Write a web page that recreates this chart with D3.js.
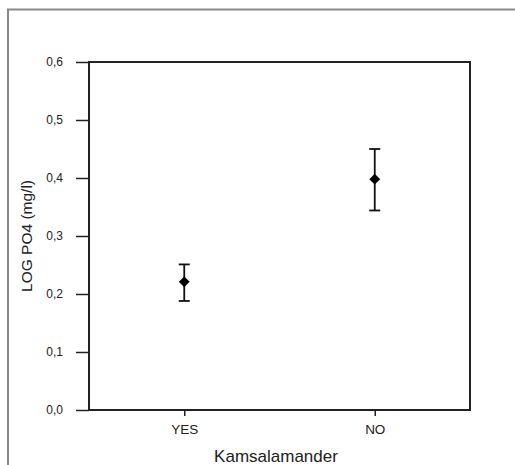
<!DOCTYPE html>
<html>
<head>
<meta charset="utf-8">
<script src="https://cdnjs.cloudflare.com/ajax/libs/d3/7.8.5/d3.min.js"></script>
<style>
  body { margin: 0; background: #fff; }
  svg { display: block; font-family: Arial, "Liberation Sans", sans-serif; }
</style>
</head>
<body>
<div id="chart"></div>
<script>
var width = 515, height = 465;
var margin = {top: 62, right: 45, bottom: 55, left: 89};

// data
var groups = ["YES", "NO"];
var means = [0.221, 0.398];
var upper = [0.251, 0.450];
var lower = [0.188, 0.344];
var yTicks = [0, 0.1, 0.2, 0.3, 0.4, 0.5, 0.6];

var data = groups.map(function(g, i) {
  return {grp: g, mean: means[i], hi: upper[i], lo: lower[i]};
});

var w = width - margin.left - margin.right;
var h = height - margin.top - margin.bottom;

var svg = d3.select("#chart").append("svg")
  .attr("width", width)
  .attr("height", height);

// outer gray frame (runs off the right and bottom edge)
svg.append("rect")
  .attr("x", 8).attr("y", 9.5)
  .attr("width", 520).attr("height", 470)
  .attr("fill", "none")
  .attr("stroke", "#888")
  .attr("stroke-width", 2);

var g = svg.append("g")
  .attr("transform", "translate(" + margin.left + "," + margin.top + ")");

var x = d3.scalePoint().domain(groups).range([0, w]).padding(0.5);
var y = d3.scaleLinear().domain([0, 0.6]).range([h, 0]);

var fmt = function(d) { return d3.format(".1f")(d).replace(".", ","); };

// y axis
var yAxis = g.append("g")
  .call(d3.axisLeft(y).tickValues(yTicks).tickFormat(fmt).tickSize(13).tickPadding(13));
yAxis.select(".domain").remove();
yAxis.selectAll("line").attr("stroke", "#222").attr("stroke-width", 1.5);
yAxis.selectAll("text").attr("fill", "#222").style("font-size", "12px");

// x axis
var xAxis = g.append("g")
  .attr("transform", "translate(0," + h + ")")
  .call(d3.axisBottom(x).tickSize(6).tickPadding(8));
xAxis.select(".domain").remove();
xAxis.selectAll("line").attr("stroke", "#222").attr("stroke-width", 1.5);
xAxis.selectAll("text").attr("fill", "#222").style("font-size", "13.5px");

// plot frame
g.append("rect")
  .attr("width", w).attr("height", h)
  .attr("fill", "none")
  .attr("stroke", "#222")
  .attr("stroke-width", 2);

// error bars
var pts = g.selectAll(".pt").data(data).enter().append("g").attr("class", "pt");

pts.append("line")
  .attr("x1", function(d) { return x(d.grp); })
  .attr("x2", function(d) { return x(d.grp); })
  .attr("y1", function(d) { return y(d.hi); })
  .attr("y2", function(d) { return y(d.lo); })
  .attr("stroke", "#111").attr("stroke-width", 1.8);

pts.selectAll(".cap")
  .data(function(d) { return [{grp: d.grp, v: d.hi}, {grp: d.grp, v: d.lo}]; })
  .enter().append("line")
  .attr("class", "cap")
  .attr("x1", function(d) { return x(d.grp) - 5.5; })
  .attr("x2", function(d) { return x(d.grp) + 5.5; })
  .attr("y1", function(d) { return y(d.v); })
  .attr("y2", function(d) { return y(d.v); })
  .attr("stroke", "#111").attr("stroke-width", 1.8);

pts.append("path")
  .attr("d", d3.symbol().type(d3.symbolDiamond2).size(75))
  .attr("transform", function(d) { return "translate(" + x(d.grp) + "," + y(d.mean) + ")"; })
  .attr("fill", "#000");

// axis titles
svg.append("text")
  .attr("transform", "translate(32," + (margin.top + h / 2) + ") rotate(-90)")
  .attr("text-anchor", "middle")
  .attr("fill", "#222")
  .style("font-size", "15.5px")
  .text("LOG PO4 (mg/l)");

svg.append("text")
  .attr("x", 276)
  .attr("y", 462)
  .attr("text-anchor", "middle")
  .attr("fill", "#222")
  .style("font-size", "17px")
  .text("Kamsalamander");
</script>
</body>
</html>
